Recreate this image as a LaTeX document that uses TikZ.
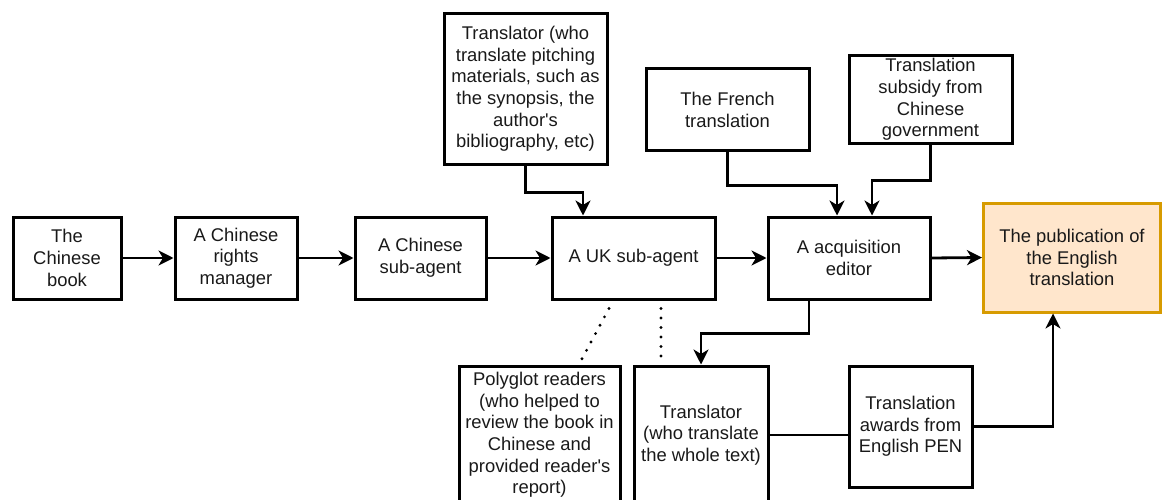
\documentclass[tikz,border=0pt]{standalone}
\usepackage{fontspec}
\setmainfont{Liberation Sans}
\usetikzlibrary{arrows.meta,calc}
\begin{document}
\begin{tikzpicture}[x=1pt,y=-1pt,
  box/.style={draw=black, line width=3pt, inner sep=0pt, align=center,
    font=\fontsize{18.4}{21.6}\selectfont, text=black!90},
  pubbox/.style={box, draw=publine, fill=pubfill},
  arr/.style={line width=2.8pt, -{Stealth[length=15pt,width=15pt,inset=4.5pt]}},
  plain/.style={line width=2.8pt},
  dots/.style={line width=3.2pt, line cap=round, dash pattern=on 0pt off 9.5pt}
]
\definecolor{pubfill}{HTML}{FFE6CC}
\definecolor{publine}{HTML}{D79B00}
\useasboundingbox (0,0) rectangle (1167,500);

% main row
\node[box, minimum width=108pt, minimum height=82pt] (book) at (67,258) {The\\Chinese\\book};
\node[box, minimum width=122pt, minimum height=82pt] (rights) at (236,258) {A Chinese\\rights\\manager};
\node[box, minimum width=131pt, minimum height=82pt] (csub) at (420.5,258) {A Chinese\\sub-agent};
\node[box, minimum width=163pt, minimum height=82pt] (uk) at (633.5,258) {A UK sub-agent};
\node[box, minimum width=162pt, minimum height=82pt] (editor) at (849,258) {A acquisition\\editor};
\node[pubbox, minimum width=177pt, minimum height=109pt] (pub) at (1072,257.5) {The publication of\\the English\\translation};

% top row
\node[box, minimum width=163pt, minimum height=150pt] (trtop) at (525.5,89) {Translator (who\\translate pitching\\materials, such as\\the synopsis, the\\author\textquotesingle s\\bibliography, etc)};
\node[box, minimum width=163pt, minimum height=82pt] (french) at (727.5,110) {The French\\translation};
\node[box, minimum width=163pt, minimum height=88pt] (subsidy) at (930.5,99.5) {Translation\\subsidy from\\Chinese\\government};

% bottom row
\node[box, minimum width=161pt, minimum height=138pt] (poly) at (539.5,435) {Polyglot readers\\(who helped to\\review the book in\\Chinese and\\provided reader\textquotesingle s\\report)};
\node[box, minimum width=134pt, minimum height=138pt] (trwhole) at (701,435) {Translator\\(who translate\\the whole text)};
\node[box, minimum width=123pt, minimum height=121pt] (awards) at (910.5,426.5) {Translation\\awards from\\English PEN};

% main flow
\draw[arr] (book.east) -- (rights.west);
\draw[arr] (rights.east) -- (csub.west);
\draw[arr] (csub.east) -- (uk.west);
\draw[arr] (uk.east) -- (editor.west);
\draw[arr] (editor.east) -- (pub.west);

% top inputs
\draw[arr] (trtop.south) -- ++(0,27) -| ([xshift=-50.5pt]uk.north);
\draw[arr] (french.south) -- ++(0,33) -| ([xshift=-12pt]editor.north);
\draw[arr] (subsidy.south) -- ++(0,35.5) -| ([xshift=23pt]editor.north);

% editor to translator
\draw[arr] ([xshift=-40pt]editor.south) -- ++(0,33) -| (trwhole.north);

% translator - awards - publication
\draw[plain] (trwhole.east) -- (trwhole.east -| awards.west);
\draw[arr] (awards.east) -| ([xshift=-19pt]pub.south);

% dotted links
\draw[dots] ([xshift=-24.5pt,yshift=-8pt]uk.south) -- ([xshift=40.5pt,yshift=2pt]poly.north);
\draw[dots] ([xshift=27.5pt,yshift=-8pt]uk.south) -- ([xshift=-40pt,yshift=2pt]trwhole.north);
\end{tikzpicture}
\end{document}
